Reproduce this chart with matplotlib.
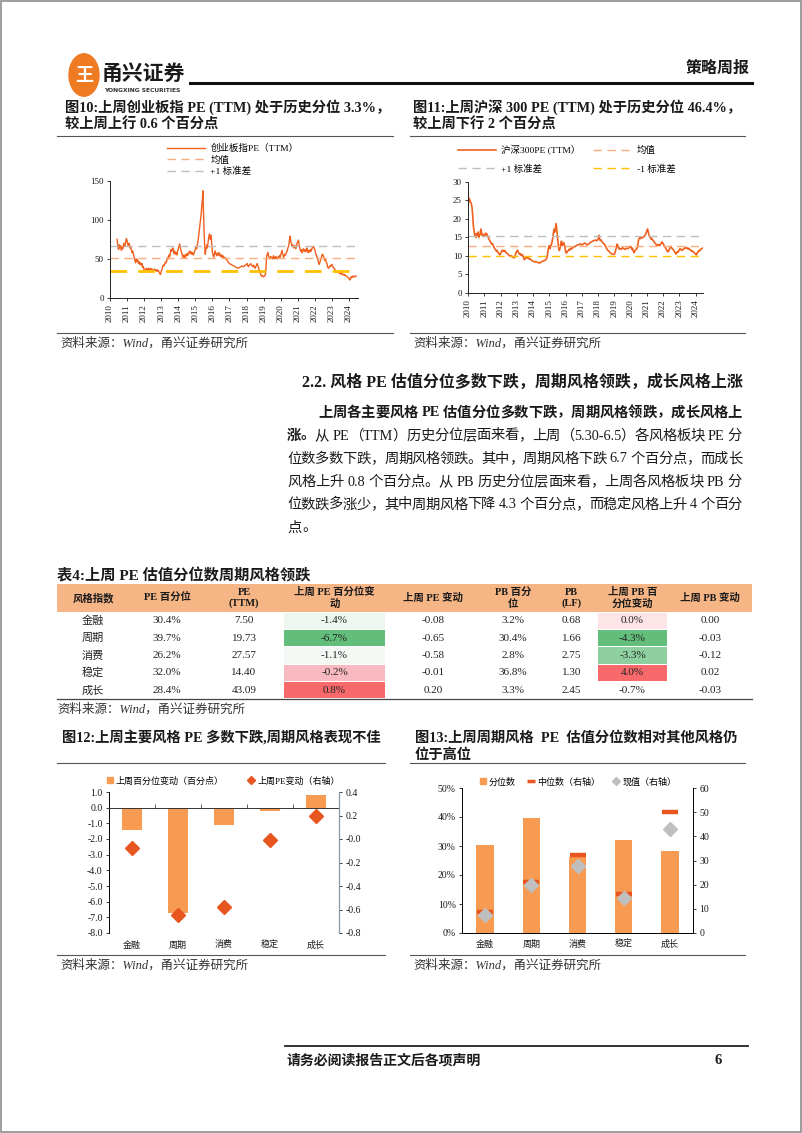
import re
import matplotlib
matplotlib.use('Agg')
import matplotlib.pyplot as plt
import matplotlib.transforms as mtransforms
import numpy as np
from matplotlib.lines import Line2D
from matplotlib.patches import Rectangle, Circle

# ---------------- data ----------------
cyb_year = [2010.42, 2010.46, 2010.50, 2010.54, 2010.58, 2010.62, 2010.67, 2010.71, 2010.75, 2010.79, 2010.83, 2010.88, 2010.92, 2010.96,
            2011.00, 2011.04, 2011.08, 2011.12, 2011.17, 2011.21, 2011.25, 2011.29, 2011.33, 2011.38, 2011.42, 2011.46, 2011.50, 2011.54,
            2011.58, 2011.62, 2011.67, 2011.71, 2011.75, 2011.79, 2011.83, 2011.88, 2011.92, 2011.96,
            2012.00, 2012.04, 2012.08, 2012.12, 2012.17, 2012.21, 2012.25, 2012.29, 2012.33, 2012.38, 2012.42, 2012.46, 2012.50, 2012.54,
            2012.58, 2012.62, 2012.67, 2012.71, 2012.75, 2012.79, 2012.83, 2012.88, 2012.92, 2012.96,
            2013.00, 2013.04, 2013.08, 2013.12, 2013.17, 2013.21, 2013.25, 2013.29, 2013.33, 2013.38, 2013.42, 2013.46, 2013.50, 2013.54,
            2013.58, 2013.62, 2013.67, 2013.71, 2013.75, 2013.79, 2013.83, 2013.88, 2013.92, 2013.96,
            2014.00, 2014.04, 2014.08, 2014.12, 2014.17, 2014.21, 2014.25, 2014.29, 2014.33, 2014.38, 2014.42, 2014.46, 2014.50, 2014.54,
            2014.58, 2014.62, 2014.67, 2014.71, 2014.75, 2014.79, 2014.83, 2014.88, 2014.92, 2014.96,
            2015.00, 2015.04, 2015.08, 2015.12, 2015.17, 2015.21, 2015.25, 2015.29, 2015.33, 2015.38, 2015.42, 2015.44, 2015.46, 2015.48,
            2015.50, 2015.52, 2015.54, 2015.56, 2015.58, 2015.62, 2015.67, 2015.71, 2015.75, 2015.79, 2015.83, 2015.88, 2015.92, 2015.96,
            2016.00, 2016.04, 2016.08, 2016.12, 2016.17, 2016.21, 2016.25, 2016.29, 2016.33, 2016.38, 2016.42, 2016.46, 2016.50, 2016.54,
            2016.58, 2016.62, 2016.67, 2016.71, 2016.75, 2016.79, 2016.83, 2016.88, 2016.92, 2016.96,
            2017.00, 2017.08, 2017.17, 2017.25, 2017.33, 2017.42, 2017.50, 2017.58, 2017.67, 2017.75, 2017.83, 2017.92,
            2018.00, 2018.04, 2018.08, 2018.12, 2018.17, 2018.21, 2018.25, 2018.29, 2018.33, 2018.38, 2018.42, 2018.46, 2018.50, 2018.54,
            2018.58, 2018.62, 2018.67, 2018.71, 2018.75, 2018.79, 2018.83, 2018.88, 2018.92, 2018.96,
            2019.00, 2019.04, 2019.08, 2019.12, 2019.15, 2019.17, 2019.21, 2019.25, 2019.29, 2019.33, 2019.38, 2019.42, 2019.46, 2019.50,
            2019.54, 2019.58, 2019.62, 2019.67, 2019.71, 2019.75, 2019.79, 2019.83, 2019.88, 2019.92, 2019.96,
            2020.00, 2020.04, 2020.08, 2020.12, 2020.17, 2020.21, 2020.25, 2020.29, 2020.33, 2020.38, 2020.42, 2020.46, 2020.50, 2020.54,
            2020.58, 2020.62, 2020.67, 2020.71, 2020.75, 2020.79, 2020.83, 2020.88, 2020.92, 2020.96,
            2021.00, 2021.04, 2021.08, 2021.12, 2021.17, 2021.21, 2021.25, 2021.29, 2021.33, 2021.38, 2021.42, 2021.46, 2021.50, 2021.54,
            2021.58, 2021.62, 2021.67, 2021.71, 2021.75, 2021.79, 2021.83, 2021.88, 2021.92, 2021.96,
            2022.00, 2022.04, 2022.08, 2022.12, 2022.17, 2022.21, 2022.25, 2022.29, 2022.33, 2022.38, 2022.42, 2022.46, 2022.50, 2022.54,
            2022.58, 2022.62, 2022.67, 2022.71, 2022.75, 2022.79, 2022.83, 2022.88, 2022.92, 2022.96,
            2023.00, 2023.04, 2023.08, 2023.12, 2023.17, 2023.21, 2023.25, 2023.29, 2023.33, 2023.38, 2023.42, 2023.46, 2023.50, 2023.54,
            2023.58, 2023.62, 2023.67, 2023.71, 2023.75, 2023.79, 2023.83, 2023.88, 2023.92, 2023.96,
            2024.00, 2024.04, 2024.08, 2024.12, 2024.17, 2024.21, 2024.25, 2024.29, 2024.33, 2024.38, 2024.42]
cyb_pe = [75, 66, 62, 68, 64, 67, 61, 65, 63, 68, 70, 66, 72, 76,
          73, 69, 66, 70, 64, 66, 62, 58, 60, 55, 52, 48, 45, 50,
          47, 49, 44, 46, 43, 45, 42, 44, 39, 40,
          35, 33, 36, 38, 37, 35, 38, 36, 37, 38, 36, 37, 35, 34,
          36, 37, 35, 36, 34, 36, 35, 33, 31, 30,
          34, 36, 40, 42, 41, 44, 46, 45, 48, 52, 50, 55, 53, 58,
          62, 60, 64, 62, 57, 60, 56, 58, 55, 60,
          62, 66, 69, 65, 60, 57, 54, 52, 55, 51, 53, 56, 54, 57,
          55, 58, 60, 57, 59, 56, 58, 55, 57, 60,
          62, 66, 63, 68, 75, 82, 90, 98, 105, 118, 128, 137, 122, 105,
          95, 80, 70, 62, 56, 62, 68, 64, 72, 78, 82, 75, 80, 70,
          58, 55, 52, 57, 60, 56, 54, 57, 55, 58, 54, 56, 53, 55,
          52, 54, 51, 52, 50, 51, 49, 48, 46, 45,
          44, 43, 42, 41, 40, 39, 38, 39, 40, 41, 40, 42,
          43, 44, 41, 40, 42, 43, 44, 42, 41, 40, 42, 39, 38, 40,
          42, 44, 41, 38, 35, 33, 30, 28, 29, 28,
          27, 28, 29, 32, 45, 52, 56, 58, 54, 51, 50, 53, 51, 52,
          50, 54, 52, 50, 53, 51, 52, 50, 53, 54, 52,
          55, 58, 61, 56, 52, 54, 56, 55, 58, 60, 64, 66, 72, 79,
          75, 70, 66, 68, 64, 65, 67, 63, 66, 70,
          72, 74, 68, 64, 60, 62, 58, 60, 63, 60, 62, 59, 61, 64,
          60, 58, 61, 59, 62, 60, 63, 65, 66, 64,
          62, 58, 55, 53, 50, 46, 43, 45, 48, 52, 55, 56, 54, 51,
          48, 50, 46, 44, 40, 38, 39, 41, 40, 42,
          43, 41, 39, 38, 37, 35, 34, 33, 34, 33, 32, 31, 32, 31,
          30, 31, 30, 29, 30, 29, 28, 28, 27, 26,
          25, 23, 24, 27, 26, 28, 27, 28, 27, 28, 28]
cyb_mean, cyb_up, cyb_down = 51, 66, 35

hs_year = [2010.00, 2010.02, 2010.04, 2010.08, 2010.12, 2010.17, 2010.21, 2010.25, 2010.29, 2010.33, 2010.38, 2010.42, 2010.46, 2010.50,
           2010.54, 2010.58, 2010.62, 2010.67, 2010.71, 2010.75, 2010.79, 2010.83, 2010.88, 2010.92, 2010.96,
           2011.00, 2011.04, 2011.08, 2011.12, 2011.17, 2011.21, 2011.25, 2011.29, 2011.33, 2011.38, 2011.42, 2011.46, 2011.50, 2011.54,
           2011.58, 2011.62, 2011.67, 2011.71, 2011.75, 2011.79, 2011.83, 2011.88, 2011.92, 2011.96,
           2012.00, 2012.04, 2012.08, 2012.12, 2012.17, 2012.21, 2012.25, 2012.29, 2012.33, 2012.38, 2012.42, 2012.46, 2012.50, 2012.54,
           2012.58, 2012.62, 2012.67, 2012.71, 2012.75, 2012.79, 2012.83, 2012.88, 2012.92, 2012.96,
           2013.00, 2013.04, 2013.08, 2013.12, 2013.17, 2013.21, 2013.25, 2013.29, 2013.33, 2013.38, 2013.42, 2013.46, 2013.50, 2013.54,
           2013.58, 2013.62, 2013.67, 2013.71, 2013.75, 2013.79, 2013.83, 2013.88, 2013.92, 2013.96,
           2014.00, 2014.08, 2014.17, 2014.25, 2014.33, 2014.42, 2014.50, 2014.58, 2014.67, 2014.75, 2014.83, 2014.88, 2014.92, 2014.96,
           2015.00, 2015.04, 2015.08, 2015.12, 2015.17, 2015.21, 2015.25, 2015.29, 2015.33, 2015.38, 2015.42, 2015.46, 2015.50, 2015.54,
           2015.58, 2015.62, 2015.67, 2015.71, 2015.75, 2015.79, 2015.83, 2015.88, 2015.92, 2015.96,
           2016.00, 2016.04, 2016.08, 2016.12, 2016.17, 2016.21, 2016.25, 2016.29, 2016.33, 2016.38, 2016.42, 2016.46, 2016.50, 2016.58,
           2016.67, 2016.75, 2016.83, 2016.92,
           2017.00, 2017.08, 2017.17, 2017.25, 2017.33, 2017.42, 2017.50, 2017.58, 2017.67, 2017.75, 2017.83, 2017.92,
           2018.00, 2018.04, 2018.06, 2018.08, 2018.12, 2018.17, 2018.21, 2018.25, 2018.33, 2018.42, 2018.50, 2018.58, 2018.67, 2018.75,
           2018.83, 2018.92,
           2019.00, 2019.04, 2019.08, 2019.12, 2019.17, 2019.21, 2019.25, 2019.29, 2019.33, 2019.42, 2019.50, 2019.58, 2019.67, 2019.75,
           2019.83, 2019.92,
           2020.00, 2020.04, 2020.08, 2020.12, 2020.17, 2020.21, 2020.25, 2020.29, 2020.33, 2020.38, 2020.42, 2020.46, 2020.50, 2020.54,
           2020.58, 2020.62, 2020.67, 2020.71, 2020.75, 2020.79, 2020.83, 2020.88, 2020.92, 2020.96,
           2021.00, 2021.04, 2021.08, 2021.12, 2021.17, 2021.21, 2021.25, 2021.29, 2021.33, 2021.38, 2021.42, 2021.46, 2021.50, 2021.54,
           2021.58, 2021.62, 2021.67, 2021.71, 2021.75, 2021.79, 2021.83, 2021.88, 2021.92, 2021.96,
           2022.00, 2022.04, 2022.08, 2022.12, 2022.17, 2022.21, 2022.25, 2022.29, 2022.33, 2022.38, 2022.42, 2022.46, 2022.50, 2022.54,
           2022.58, 2022.62, 2022.67, 2022.71, 2022.75, 2022.79, 2022.83, 2022.88, 2022.92, 2022.96,
           2023.00, 2023.04, 2023.08, 2023.12, 2023.17, 2023.21, 2023.25, 2023.29, 2023.33, 2023.38, 2023.42, 2023.46, 2023.50, 2023.54,
           2023.58, 2023.62, 2023.67, 2023.71, 2023.75, 2023.79, 2023.83, 2023.88, 2023.92, 2023.96,
           2024.00, 2024.04, 2024.08, 2024.12, 2024.17, 2024.21, 2024.25, 2024.29, 2024.33, 2024.38, 2024.42, 2024.45]
hs_pe = [28.5, 26, 24.5, 25.5, 25, 24.5, 24, 23, 21, 18, 16.5, 15.5, 16, 15,
         16, 15.5, 16.5, 15, 15.5, 16, 17.3, 16.5, 15.5, 15.8, 15.2,
         15.5, 15.8, 16.2, 15.6, 15.9, 15.3, 15.0, 14.6, 14.2, 13.8, 13.5, 13.2, 13.4, 13.0,
         12.5, 12.2, 11.8, 11.6, 11.3, 11.5, 11.0, 10.8, 10.5, 10.3,
         10.6, 11.0, 11.4, 11.6, 11.3, 11.5, 11.2, 11.4, 11.0, 10.8, 10.6, 10.5, 10.3, 10.1,
         10.0, 9.9, 10.1, 9.8, 9.7, 9.6, 9.5, 9.8, 10.4, 11.0,
         11.3, 11.6, 11.2, 10.8, 10.5, 10.7, 10.3, 10.1, 10.4, 10.0, 9.5, 9.0, 9.2, 9.4,
         9.6, 9.5, 9.7, 9.4, 9.2, 9.3, 9.1, 9.0, 8.8, 8.7,
         8.6, 8.4, 8.5, 8.3, 8.2, 8.1, 8.4, 8.6, 8.7, 8.9, 9.2, 10.2, 11.5, 12.3,
         12.8, 12.0, 12.5, 13.0, 13.8, 15.0, 16.0, 17.2, 16.5, 17.8, 18.8, 17.0, 15.0, 13.5,
         12.0, 11.5, 12.3, 13.5, 14.0, 12.8, 13.2, 13.6, 13.0, 12.5,
         11.2, 10.8, 11.0, 11.3, 11.5, 11.8, 11.6, 11.9, 12.1, 11.9, 12.2, 12.3, 12.4, 12.6,
         12.8, 13.0, 13.1, 13.3,
         13.0, 13.2, 13.5, 13.3, 13.0, 13.2, 13.6, 13.8, 14.0, 14.2, 14.3, 14.1,
         14.6, 15.2, 15.6, 14.8, 14.2, 14.4, 14.0, 13.8, 13.4, 13.0, 12.2, 11.6, 11.3, 10.8,
         10.6, 10.4,
         10.5, 10.9, 11.6, 12.4, 13.2, 12.8, 12.3, 11.9, 12.1, 11.8, 12.2, 12.0, 11.8, 12.1,
         12.0, 12.3,
         12.6, 12.2, 11.8, 12.1, 11.2, 10.9, 11.3, 11.6, 11.8, 12.0, 12.3, 13.4, 14.6, 14.8,
         15.0, 14.7, 15.1, 14.9, 15.2, 15.0, 15.3, 15.6, 15.9, 16.4,
         16.8, 17.3, 16.5, 15.8, 15.2, 14.9, 14.6, 14.8, 14.5, 14.2, 14.0, 13.7, 13.5, 13.2,
         13.0, 12.8, 13.1, 12.9, 13.0, 12.8, 13.1, 13.4, 13.8, 13.6,
         13.3, 13.0, 12.6, 12.4, 12.0, 11.6, 11.4, 11.1, 11.3, 11.8, 12.2, 12.6, 12.4, 12.1,
         11.9, 11.7, 11.4, 11.1, 10.8, 10.5, 10.9, 11.2, 11.0, 11.4,
         11.7, 12.0, 11.8, 11.6, 11.5, 11.7, 11.9, 12.0, 12.2, 12.1, 12.3, 12.2, 12.0, 11.9,
         12.1, 11.8, 11.6, 11.5, 11.3, 11.4, 11.2, 11.0, 10.8, 10.7,
         10.5, 10.3, 10.6, 11.0, 11.3, 11.5, 11.4, 11.7, 11.9, 12.0, 12.1, 12.2]
hs_mean, hs_up, hs_down = 12.7, 15.5, 9.9

styles = ['金融', '周期', '消费', '稳定', '成长']
pe_pct = [30.4, 39.7, 26.2, 32.0, 28.4]
pe_ttm = [7.50, 19.73, 27.57, 14.40, 43.09]
pe_pct_chg = [-1.4, -6.7, -1.1, -0.2, 0.8]
pe_chg = [-0.08, -0.65, -0.58, -0.01, 0.20]
pb_pct = [3.2, 30.4, 2.8, 36.8, 3.3]
pb_lf = [0.68, 1.66, 2.75, 1.30, 2.45]
pb_pct_chg = [0.0, -4.3, -3.3, 4.0, -0.7]
pb_chg = [0.00, -0.03, -0.12, 0.02, -0.03]
pe_median = [8.5, 21.0, 32.3, 16.0, 50.0]

table_header = ['风格指数', 'PE 百分位', 'PE\n(TTM)', '上周 PE 百分位变\n动', '上周 PE 变动',
                'PB 百分\n位', 'PB\n(LF)', '上周 PB 百\n分位变动', '上周 PB 变动']
pe_chg_cell_colors = ['#EEF6F0', '#63BE7B', '#F4F9F5', '#F9B9C1', '#F8696B']
pb_chg_cell_colors = ['#FCE4E7', '#63BE7B', '#8FD0A0', '#F8696B', '#FFFFFF']

para_lines = [
    '上周各主要风格 PE 估值分位多数下跌，周期风格领跌，成长风格上',
    '涨。从 PE（TTM）历史分位层面来看，上周（5.30-6.5）各风格板块 PE 分',
    '位数多数下跌，周期风格领跌。其中，周期风格下跌 6.7 个百分点，而成长',
    '风格上升 0.8 个百分点。从 PB 历史分位层面来看，上周各风格板块 PB 分',
    '位数跌多涨少，其中周期风格下降 4.3 个百分点，而稳定风格上升 4 个百分',
    '点。',
]

# ---------------- setup ----------------
CJK = 'Noto Sans CJK SC'
SERIF = ['Liberation Serif', CJK]
plt.rcParams['font.family'] = SERIF
plt.rcParams['axes.unicode_minus'] = False

LINE = '#F0601E'
BAR = '#F79B52'
RED = '#E8561F'
INK = '#1A1A1A'

W, H = 802, 1133
fig = plt.figure(figsize=(W / 100, H / 100), dpi=100)


def fx(x):
    return x / W


def fy(y):
    return 1 - y / H


def add_ax(x0, y0, x1, y1):
    return fig.add_axes([fx(x0), fy(y1), (x1 - x0) / W, (y1 - y0) / H])


def text(x, y, s, size=10, weight='normal', ha='left', va='center', color=INK, family=SERIF, **kw):
    return fig.text(fx(x), fy(y), s, fontsize=size, fontweight=weight, ha=ha, va=va,
                    color=color, family=family, **kw)


def rule(x0, x1, y, lw=0.8, color='#333333'):
    fig.add_artist(Line2D([fx(x0), fx(x1)], [fy(y), fy(y)], lw=lw, color=color))


def source(x, y):
    text(x, y, '资料来源：Wind，甬兴证券研究所', size=9, style='italic', color='#333333')


def justify(x0, x1, y, line, size, bold_n=0, bold_all=False, stretch=True):
    # place token by token so the line fills x0..x1 like the justified original
    toks = re.findall(r' |[A-Za-z0-9.\-%]+|[^\sA-Za-z0-9.\-%]', line)
    r = fig.canvas.get_renderer()
    items = []
    k = 0
    for t in toks:
        if t == ' ':
            items.append((None, 3.5))
            continue
        wt = 'bold' if (bold_all or k < bold_n) else 'normal'
        a = text(0, y, t, size=size, weight=wt)
        items.append((a, a.get_window_extent(r).width))
        k += 1
    used = sum(w for _, w in items)
    gap = (x1 - x0 - used) / max(k - 1, 1) if stretch else 0.8
    x = x0
    for a, w in items:
        if a is None:
            x += w
            continue
        a.set_x(fx(x))
        x += w + gap


def style_axis(ax):
    ax.tick_params(labelsize=6.5, length=2.5, width=0.6, colors=INK, pad=2)
    for s in ['top', 'right']:
        ax.spines[s].set_visible(False)
    for s in ['left', 'bottom']:
        ax.spines[s].set_linewidth(0.7)
        ax.spines[s].set_color('#222222')


# page frame
fig.add_artist(Rectangle((0.001, 0.001), 0.998, 0.998, transform=fig.transFigure,
                         fill=False, edgecolor='#8C8C8C', lw=1.2))

# ---------------- header ----------------
fig.add_artist(Circle((fx(84), fy(75)), 15 / W, transform=fig.transFigure, color='#EE7A22'))
text(84, 75, '王', size=13, weight='bold', ha='center', color='white', family=CJK)
text(102, 73, '甬兴证券', size=15, weight='bold', family=CJK)
text(104, 90, 'YONGXING SECURITIES', size=4.3, weight='bold', family='DejaVu Sans', color='#333333')
rule(190, 752, 83, lw=2.2, color='#111111')
text(750, 68, '策略周报', size=11.5, weight='bold', ha='right', family=CJK)

# ---------------- figure titles ----------------
text(65, 107, '图10:上周创业板指 PE (TTM) 处于历史分位 3.3%，', size=10.3, weight='bold')
text(65, 125, '较上周上行 0.6 个百分点', size=10.3, weight='bold')
rule(57, 393, 136, lw=0.8, color='#555555')
text(413, 107, '图11:上周沪深 300 PE (TTM) 处于历史分位 46.4%，', size=10.3, weight='bold')
text(413, 125, '较上周下行 2 个百分点', size=10.3, weight='bold')
rule(410, 745, 136, lw=0.8, color='#555555')

# ---------------- chart 10 ----------------
ax = add_ax(110, 180.7, 358, 298)
h1, = ax.plot(cyb_year, cyb_pe, color=LINE, lw=1.0)
h2 = ax.axhline(cyb_mean, color='#F7AE7C', lw=1.0, dashes=(6, 4))
h3 = ax.axhline(cyb_up, color='#BDBDBD', lw=1.0, dashes=(6, 4))
ax.axhline(cyb_down, color='#FFC000', lw=2.0, dashes=(6, 4))
ax.set_xlim(2010, 2024.53)
ax.set_ylim(0, 150)
ax.set_yticks([0, 50, 100, 150])
ax.set_xticks(range(2010, 2025))
ax.set_xticklabels([str(y) for y in range(2010, 2025)], rotation=90)
style_axis(ax)
ax.legend([h1, h2, h3], ['创业板指PE（TTM）', '均值', '+1 标准差'], loc='upper left',
          bbox_to_anchor=(fx(167), fy(144)), bbox_transform=fig.transFigure, frameon=False,
          fontsize=6.8, handlelength=4.0, handletextpad=0.6, labelspacing=0.25,
          borderpad=0, borderaxespad=0)
rule(57, 393, 333, lw=0.8, color='#555555')
source(60, 343)

# ---------------- chart 11 ----------------
ax = add_ax(468, 182, 703, 293)
g1, = ax.plot(hs_year, hs_pe, color=LINE, lw=1.2)
g2 = ax.axhline(hs_mean, color='#F7AE7C', lw=1.0, dashes=(6, 4))
g3 = ax.axhline(hs_up, color='#BDBDBD', lw=1.0, dashes=(6, 4))
g4 = ax.axhline(hs_down, color='#FFC000', lw=1.0, dashes=(6, 4))
ax.set_xlim(2010, 2024.45)
ax.set_ylim(0, 30)
ax.set_yticks(range(0, 31, 5))
ax.set_xticks(range(2010, 2025))
ax.set_xticklabels([str(y) for y in range(2010, 2025)], rotation=90)
style_axis(ax)
ax.legend([g1, g3, g2, g4], ['沪深300PE (TTM）', '+1 标准差', '均值', '-1 标准差'], ncol=2,
          loc='upper left', bbox_to_anchor=(fx(458), fy(145)), bbox_transform=fig.transFigure,
          frameon=False, fontsize=6.8, handlelength=4.0, handletextpad=0.6, labelspacing=0.95,
          columnspacing=1.3, borderpad=0, borderaxespad=0)
rule(410, 745, 333, lw=0.8, color='#555555')
source(413, 343)

# ---------------- section text ----------------
text(302, 383, '2.2. 风格 PE 估值分位多数下跌，周期风格领跌，成长风格上涨', size=11.5, weight='bold')
para_y = [413, 436, 459, 482, 505, 528]
justify(318, 742, para_y[0], para_lines[0], 10.3, bold_all=True)
justify(287, 742, para_y[1], para_lines[1], 10.3, bold_n=2)
justify(287, 742, para_y[2], para_lines[2], 10.3)
justify(287, 742, para_y[3], para_lines[3], 10.3)
justify(287, 742, para_y[4], para_lines[4], 10.3)
justify(287, 742, para_y[5], para_lines[5], 10.3, stretch=False)

# ---------------- table ----------------
text(57, 576, '表4:上周 PE 估值分位数周期风格领跌', size=11, weight='bold')
cols_x = [57, 129, 205, 283, 386, 480, 546, 597, 668, 752]
col_c = [(a + b) / 2 for a, b in zip(cols_x[:-1], cols_x[1:])]
fig.add_artist(Rectangle((fx(57), fy(612)), (752 - 57) / W, 28 / H, transform=fig.transFigure,
                         color='#F5B585', lw=0))
for c, lab in zip(col_c, table_header):
    text(c, 598, lab, size=7.5, weight='bold', ha='center', linespacing=1.25)

row_top, row_h = 612, 17.4
for i in range(len(styles)):
    y0 = row_top + i * row_h
    yc = y0 + row_h / 2
    for ci, col in [(3, pe_chg_cell_colors), (7, pb_chg_cell_colors)]:
        fig.add_artist(Rectangle((fx(cols_x[ci] + 1), fy(y0 + row_h - 0.6)),
                                 (cols_x[ci + 1] - cols_x[ci] - 2) / W, (row_h - 1.2) / H,
                                 transform=fig.transFigure, color=col[i], lw=0))
    vals = [styles[i], f'{pe_pct[i]:.1f}%', f'{pe_ttm[i]:.2f}', f'{pe_pct_chg[i]:.1f}%',
            f'{pe_chg[i]:.2f}', f'{pb_pct[i]:.1f}%', f'{pb_lf[i]:.2f}', f'{pb_pct_chg[i]:.1f}%',
            f'{pb_chg[i]:.2f}']
    for c, v in zip(col_c, vals):
        text(c, yc, v, size=8, ha='center', color='#222222')
rule(57, 752, 699, lw=0.9, color='#444444')
source(57, 709)

# ---------------- chart 12 ----------------
text(62, 738, '图12:上周主要风格 PE 多数下跌,周期风格表现不佳', size=10.3, weight='bold')
rule(57, 385, 763, lw=0.8, color='#555555')
ax = add_ax(109, 792, 339, 933)
xs = np.arange(len(styles))
ax.bar(xs, pe_pct_chg, width=0.42, color=BAR, zorder=2)
ax.set_xlim(-0.5, 4.5)
ax.set_ylim(-8, 1)
ax.set_yticks(np.arange(-8, 1.1, 1))
ax.set_yticklabels([f'{v:.1f}' for v in np.arange(-8, 1.1, 1)])
ax.spines['bottom'].set_position(('data', 0))
ax.set_xticks(np.arange(-0.5, 5, 1))
ax.set_xticklabels([])
ax.tick_params(axis='x', direction='in', length=3, width=0.6, colors='#444444')
ax.tick_params(axis='y', labelsize=7, length=2.5, width=0.6, colors=INK, pad=2)
for s in ['top', 'right']:
    ax.spines[s].set_visible(False)
ax.spines['left'].set_linewidth(0.7)
ax.spines['bottom'].set_linewidth(0.7)
ax.spines['bottom'].set_color('#333333')
trans = mtransforms.blended_transform_factory(ax.transData, ax.transAxes)
for i, s in enumerate(styles):
    ax.text(i, -0.085, s, transform=trans, ha='center', va='center', fontsize=6.5, color=INK)
ax2 = ax.twinx()
ax2.plot(xs, pe_chg, ls='none', marker='D', ms=7, color=RED, zorder=3)
ax2.set_ylim(-0.8, 0.4)
ax2.set_yticks(np.arange(-0.8, 0.41, 0.2))
ax2.set_yticklabels([f'{v:.1f}' for v in np.arange(-0.8, 0.41, 0.2)])
ax2.tick_params(axis='y', labelsize=7, length=2.5, width=0.6, colors=INK, pad=2)
for s in ['top', 'left', 'bottom']:
    ax2.spines[s].set_visible(False)
ax2.spines['right'].set_color('#8497B0')
ax2.spines['right'].set_linewidth(0.9)
hb = Line2D([], [], ls='none', marker='s', ms=5, color=BAR)
hd = Line2D([], [], ls='none', marker='D', ms=4.5, color=RED)
ax.legend([hb, hd], ['上周百分位变动（百分点）', '上周PE变动（右轴）'], ncol=2, loc='center left',
          bbox_to_anchor=(fx(106), fy(781)), bbox_transform=fig.transFigure, frameon=False,
          fontsize=6.5, handlelength=0.8, handletextpad=0.3, columnspacing=2.6,
          borderpad=0, borderaxespad=0)
rule(57, 385, 955, lw=0.8, color='#555555')
source(60, 965)

# ---------------- chart 13 ----------------
text(415, 738, '图13:上周周期风格  PE  估值分位数相对其他风格仍', size=10.3, weight='bold')
text(415, 755, '位于高位', size=10.3, weight='bold')
rule(410, 745, 763, lw=0.8, color='#555555')
ax = add_ax(462, 788, 693, 933)
ax.bar(xs, [v / 100 for v in pe_pct], width=0.38, color=BAR, zorder=2)
ax.set_xlim(-0.5, 4.5)
ax.set_ylim(0, 0.5)
ax.set_yticks(np.arange(0, 0.51, 0.1))
ax.set_yticklabels([f'{int(round(v * 100))}%' for v in np.arange(0, 0.51, 0.1)])
ax.set_xticks(xs)
ax.set_xticklabels(styles)
ax.tick_params(axis='x', length=0, labelsize=6.5, colors=INK, pad=5)
ax.tick_params(axis='y', labelsize=7, length=2.5, width=0.6, colors=INK, pad=2)
ax.spines['top'].set_visible(False)
ax.spines['right'].set_visible(False)
ax.spines['left'].set_linewidth(0.7)
ax.spines['bottom'].set_linewidth(0.7)
ax2 = ax.twinx()
ax2.plot(xs, pe_median, ls='none', marker='_', ms=12, mew=3.2, color=RED, zorder=3)
ax2.plot(xs, pe_ttm, ls='none', marker='D', ms=7, color='#BFBFBF', zorder=4)
ax2.set_ylim(0, 60)
ax2.set_yticks(range(0, 61, 10))
ax2.tick_params(axis='y', labelsize=7, length=2.5, width=0.6, colors=INK, pad=2)
for s in ['top', 'left', 'bottom']:
    ax2.spines[s].set_visible(False)
ax2.spines['right'].set_linewidth(0.7)
hb = Line2D([], [], ls='none', marker='s', ms=5, color=BAR)
hm = Line2D([], [], ls='none', marker='_', ms=6, mew=2.5, color=RED)
hg = Line2D([], [], ls='none', marker='D', ms=4, color='#BFBFBF')
ax.legend([hb, hm, hg], ['分位数', '中位数（右轴）', '现值（右轴）'], ncol=3, loc='center left',
          bbox_to_anchor=(fx(479), fy(782)), bbox_transform=fig.transFigure, frameon=False,
          fontsize=6.5, handlelength=0.8, handletextpad=0.3, columnspacing=1.3,
          borderpad=0, borderaxespad=0)
rule(410, 745, 955, lw=0.8, color='#555555')
source(413, 965)

# ---------------- footer ----------------
rule(285, 748, 1046, lw=1.3, color='#222222')
text(287, 1060, '请务必阅读报告正文后各项声明', size=10, weight='bold', family=CJK)
text(722, 1060, '6', size=10.5, weight='bold', ha='right')

fig.savefig('out.png', dpi=100)
